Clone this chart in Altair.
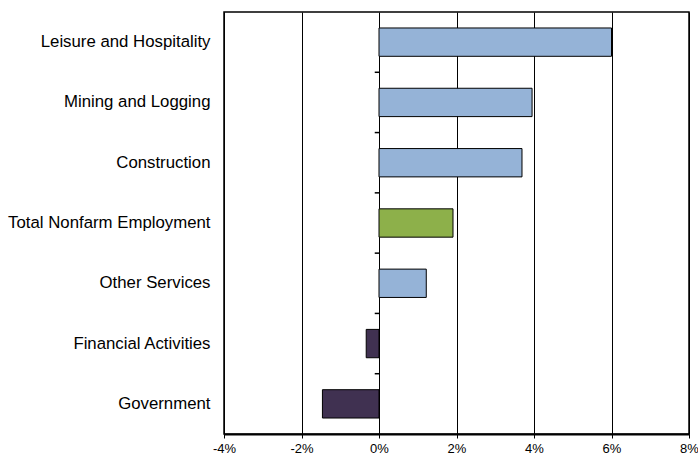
import altair as alt
import pandas as pd

categories = ["Leisure and Hospitality", "Mining and Logging", "Construction",
              "Total Nonfarm Employment", "Other Services", "Financial Activities", "Government"]
values = [0.0600, 0.0395, 0.0369, 0.0191, 0.0122, -0.0033, -0.0146]
groups = ["up", "up", "up", "total", "up", "down", "down"]

df = pd.DataFrame({"cat": categories, "val": values, "grp": groups})
ticks_df = pd.DataFrame({"cat": categories[1:]})

y_axis = alt.Axis(title=None, ticks=False, domain=False, labelPadding=14,
                  labelFont="Liberation Sans", labelFontSize=16.8,
                  labelColor="black", labelLimit=300)
y_scale = alt.Scale(domain=categories, paddingInner=0, paddingOuter=0)

x_scale = alt.Scale(domain=[-0.04, 0.08], nice=False, zero=False)

bars = alt.Chart(df).mark_bar(stroke="black", strokeWidth=1, height={"band": 0.47}).encode(
    x=alt.X("val:Q", scale=x_scale,
            axis=alt.Axis(title=None, values=[-0.04, -0.02, 0, 0.02, 0.04, 0.06, 0.08],
                          labelExpr="round(datum.value*100) + '%'",
                          labelFlush=False, labelOverlap=False,
                          grid=True, gridColor="black", gridWidth=1, gridOpacity=1,
                          tickColor="black", tickSize=4, domainColor="black", domainWidth=2,
                          labelFont="Liberation Sans", labelFontSize=13, labelColor="black",
                          labelPadding=4)),
    x2=alt.datum(0),
    y=alt.Y("cat:N", sort=categories, scale=y_scale, axis=y_axis),
    color=alt.Color("grp:N", scale=alt.Scale(domain=["up", "total", "down"],
                                             range=["#95B3D7", "#8DB04A", "#403151"]),
                    legend=None),
)

tick_marks = alt.Chart(ticks_df).mark_rule(color="black", strokeWidth=1.5).encode(
    x=alt.datum(-0.0011),
    x2=alt.datum(0),
    y=alt.Y("cat:N", sort=categories, bandPosition=0, scale=y_scale, axis=y_axis),
)

chart = alt.layer(bars, tick_marks).properties(
    width=465, height=422,
    background="white",
    autosize=alt.AutoSizeParams(type="none"),
    padding={"left": 224, "top": 12, "right": 9, "bottom": 26},
).configure_view(stroke="black", strokeWidth=1.5)

chart.save("out.html", embed_options={"renderer": "svg", "actions": False})
